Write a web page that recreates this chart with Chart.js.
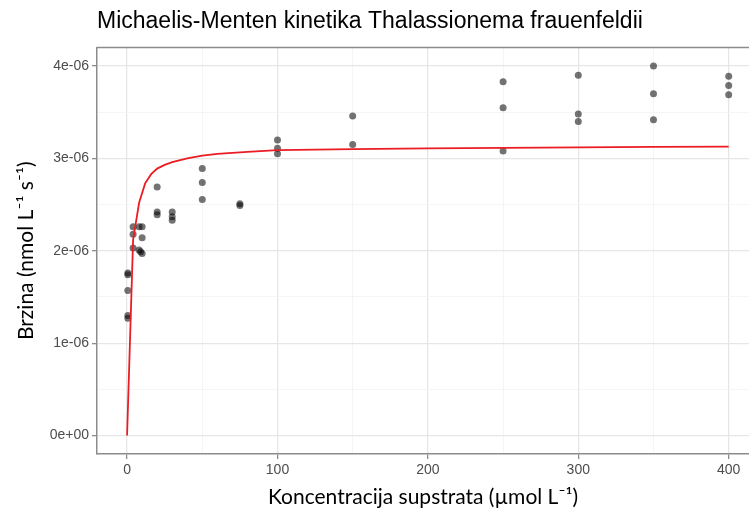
<!DOCTYPE html>
<html>
<head>
<meta charset="utf-8">
<script src="https://cdn.jsdelivr.net/npm/chart.js@4/dist/chart.umd.min.js"></script>
<style>
  html, body { margin: 0; padding: 0; background: #fff; overflow: hidden; }
  canvas { display: block; }
</style>
</head>
<body>
<canvas id="mmChart" width="749" height="514"></canvas>
<script>
// measured points: substrate concentration (umol/L) and rate
const concentration = [
  0.5, 0.5, 0.5, 0.5, 0.5,
  4, 4, 4,
  8, 8, 9,
  10, 10, 10,
  20, 20, 20,
  30, 30, 30,
  50, 50, 50,
  75, 75,
  100, 100, 100,
  150, 150,
  250, 250, 250,
  300, 300, 300,
  350, 350, 350,
  400, 400, 400
]
const rate = [
  1.76e-6, 1.74e-6, 1.57e-6, 1.30e-6, 1.27e-6,
  2.26e-6, 2.18e-6, 2.03e-6,
  2.26e-6, 2.01e-6, 1.99e-6,
  2.26e-6, 2.14e-6, 1.97e-6,
  2.69e-6, 2.42e-6, 2.39e-6,
  2.42e-6, 2.37e-6, 2.33e-6,
  2.89e-6, 2.74e-6, 2.555e-6,
  2.51e-6, 2.49e-6,
  3.20e-6, 3.11e-6, 3.05e-6,
  3.46e-6, 3.15e-6,
  3.83e-6, 3.55e-6, 3.08e-6,
  3.90e-6, 3.48e-6, 3.40e-6,
  4.00e-6, 3.70e-6, 3.42e-6,
  3.89e-6, 3.79e-6, 3.69e-6
]

// fitted Michaelis-Menten curve
const curveConc = [0, 4, 8, 12, 16, 20, 25, 30, 40, 50, 60, 80, 100, 150, 200, 250, 300, 350, 400]
const curveRate = [
  0, 2.12e-6, 2.52e-6, 2.73e-6, 2.83e-6, 2.89e-6, 2.93e-6, 2.96e-6, 3.00e-6, 3.03e-6,
  3.05e-6, 3.07e-6, 3.09e-6, 3.10e-6, 3.11e-6, 3.115e-6, 3.12e-6, 3.125e-6, 3.127e-6
]

// axis ticks (major + minor grid positions)
const xTickValues = [0, 50, 100, 150, 200, 250, 300, 350, 400]
const xTickLabels = ['0', '', '100', '', '200', '', '300', '', '400']
const yTickValues = [0, 0.5e-6, 1e-6, 1.5e-6, 2e-6, 2.5e-6, 3e-6, 3.5e-6, 4e-6]
const yTickLabels = ['0e+00', '', '1e-06', '', '2e-06', '', '3e-06', '', '4e-06']

const points = concentration.map((c, i) => ({ x: c, y: rate[i] }))
const curve = curveConc.map((c, i) => ({ x: c, y: curveRate[i] }))

const isMajor = (labels, ctx) => ctx.index !== undefined && labels[ctx.index] !== ''
const tickFont = { family: '"Liberation Sans", Arial, sans-serif', size: 14 }
const axisTitleFont = { family: 'Lato, "Open Sans", sans-serif', size: 21, lineHeight: 1.2 }

// top edge of the panel (ggplot-like frame)
const panelTop = {
  id: 'panelTop',
  afterDraw(chart) {
    const { ctx, chartArea } = chart
    ctx.save()
    ctx.strokeStyle = '#8c8c8c'
    ctx.lineWidth = 1.5
    ctx.beginPath()
    ctx.moveTo(chartArea.left, chartArea.top)
    ctx.lineTo(chartArea.right, chartArea.top)
    ctx.stroke()
    ctx.restore()
  }
}

new Chart(document.getElementById('mmChart'), {
  data: {
    datasets: [{
      type: 'line',
      label: 'fit',
      data: curve,
      borderColor: '#eb1c24',
      borderWidth: 1.8,
      pointRadius: 0,
      tension: 0,
      fill: false,
      order: 0
    }, {
      type: 'scatter',
      label: 'data',
      data: points,
      backgroundColor: 'rgba(0,0,0,0.55)',
      borderWidth: 0,
      pointRadius: 3.5,
      order: 1
    }]
  },
  options: {
    responsive: false,
    animation: false,
    layout: { padding: 0, autoPadding: false },
    plugins: {
      legend: { display: false },
      tooltip: { enabled: false },
      title: {
        display: true,
        text: 'Michaelis-Menten kinetika Thalassionema frauenfeldii',
        fullSize: false,
        align: 'start',
        color: '#000',
        font: { family: '"Liberation Sans", Arial, sans-serif', size: 23, weight: 'normal', lineHeight: 1.2 },
        padding: { top: 8, bottom: 12 }
      }
    },
    scales: {
      x: {
        type: 'linear',
        min: -20,
        max: 413.5,
        afterBuildTicks: axis => { axis.ticks = xTickValues.map(v => ({ value: v })) },
        afterFit: axis => {
          axis.height = 60
          axis.paddingLeft = 0
          axis.paddingRight = 0
        },
        ticks: {
          autoSkip: false,
          maxRotation: 0,
          padding: 3,
          color: '#4d4d4d',
          font: tickFont,
          callback: (v, i) => xTickLabels[i]
        },
        grid: {
          color: ctx => isMajor(xTickLabels, ctx) ? '#e6e6e6' : '#f2f2f2',
          lineWidth: ctx => isMajor(xTickLabels, ctx) ? 1.3 : 0.8,
          tickLength: 5,
          tickColor: ctx => isMajor(xTickLabels, ctx) ? '#8c8c8c' : 'rgba(0,0,0,0)',
          tickWidth: 1.3
        },
        border: { display: true, color: '#8c8c8c', width: 1.5 },
        title: {
          display: true,
          text: 'Koncentracija supstrata (µmol L⁻¹)',
          color: '#000',
          font: axisTitleFont,
          padding: { top: 0, bottom: 4 }
        }
      },
      y: {
        type: 'linear',
        min: -0.2e-6,
        max: 4.2e-6,
        afterBuildTicks: axis => { axis.ticks = yTickValues.map(v => ({ value: v })) },
        afterFit: axis => { axis.width = 97 },
        ticks: {
          autoSkip: false,
          padding: 3,
          color: '#4d4d4d',
          font: tickFont,
          callback: (v, i) => yTickLabels[i]
        },
        grid: {
          color: ctx => isMajor(yTickLabels, ctx) ? '#e6e6e6' : '#f2f2f2',
          lineWidth: ctx => isMajor(yTickLabels, ctx) ? 1.3 : 0.8,
          tickLength: 5,
          tickColor: ctx => isMajor(yTickLabels, ctx) ? '#8c8c8c' : 'rgba(0,0,0,0)',
          tickWidth: 1.3
        },
        border: { display: true, color: '#8c8c8c', width: 1.5 },
        title: {
          display: true,
          text: 'Brzina (nmol L⁻¹ s⁻¹)',
          color: '#000',
          font: axisTitleFont,
          padding: { top: 14, bottom: 0 }
        }
      }
    }
  },
  plugins: [panelTop]
})
</script>
</body>
</html>
